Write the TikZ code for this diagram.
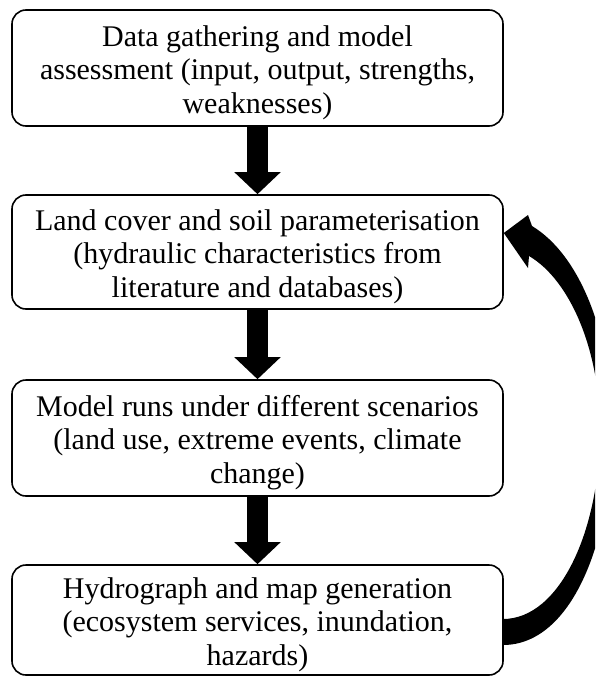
\documentclass[tikz,border=0pt]{standalone}
\usepackage{fontspec}
\setmainfont{Liberation Serif}
\usetikzlibrary{arrows.meta}
\newcommand{\mytopstrut}{\rule{0pt}{30pt}}
\begin{document}
\begin{tikzpicture}[x=1pt,y=-1pt,
  box/.style={draw=black, line width=1.6pt, rounded corners=14pt, minimum width=491pt,
    align=center, inner sep=0pt, font=\fontsize{30}{33.5}\selectfont},
  flow/.style={line width=21pt, -{Triangle[width=45pt,length=22pt]}}]
\fill[white] (0,0) rectangle (595,677);
\useasboundingbox (0,0) rectangle (595,677);
\clip (0,0) rectangle (595,677);
\node[box, minimum height=116pt] (b1) at (257.5,68)
  {\mytopstrut Data gathering and model\\assessment (input, output, strengths,\\weaknesses)};
\node[box, minimum height=114pt] (b2) at (257.5,252)
  {\mytopstrut Land cover and soil parameterisation\\(hydraulic characteristics from\\literature and databases)};
\node[box, minimum height=116pt] (b3) at (257.5,438)
  {\mytopstrut Model runs under different scenarios\\(land use, extreme events, climate\\change)};
\node[box, minimum height=110pt] (b4) at (257.5,620)
  {\mytopstrut Hydrograph and map generation\\(ecosystem services, inundation,\\hazards)};
\draw[flow] (b1.south) -- (b2.north);
\draw[flow] (b2.south) -- (b3.north);
\draw[flow] (b3.south) -- (b4.north);
% feedback arrow from b4 back to b2
\coordinate (fbstart) at ([yshift=13pt]b4.east);
\coordinate (fbtip) at ([yshift=19pt]b2.east);
\fill (503,645) .. controls (572,645) and (612,540) .. (612,430)
  .. controls (612,335) and (580,255) .. (532,226)
  -- (528,215) -- (fbtip) -- (528,268) -- (529,256)
  .. controls (570,280) and (600,350) .. (600,430)
  .. controls (600,530) and (560,619) .. (503,619) -- cycle;
\end{tikzpicture}
\end{document}
